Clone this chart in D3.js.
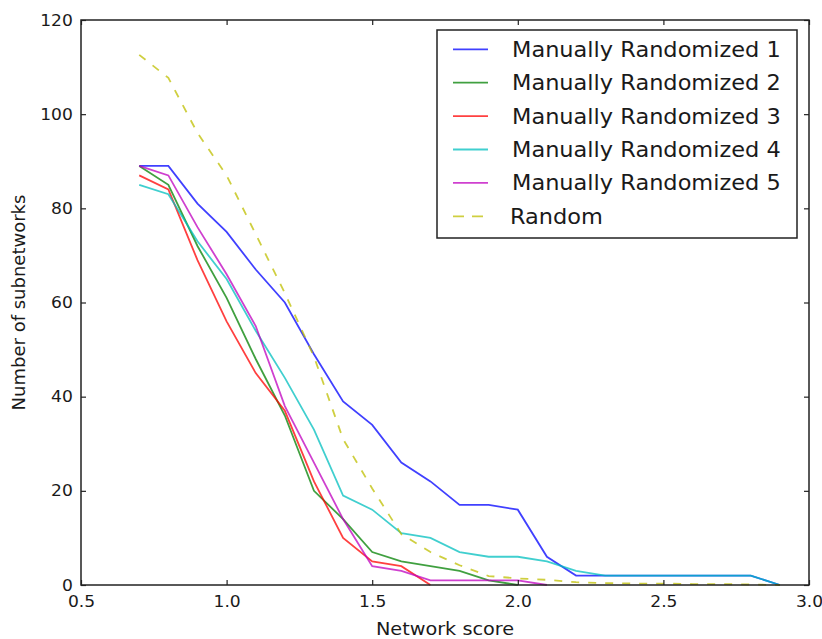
<!DOCTYPE html>
<html>
<head>
<meta charset="utf-8">
<script src="https://cdn.jsdelivr.net/npm/d3@7"></script>
<style>
  body { margin: 0; background: #fff; }
  text { font-family: "DejaVu Sans", sans-serif; fill: #1a1a1a; }
</style>
</head>
<body>
<div id="chart"></div>
<script>
// data
const scores = [0.7, 0.8, 0.9, 1.0, 1.1, 1.2, 1.3, 1.4, 1.5, 1.6, 1.7, 1.8,
                1.9, 2.0, 2.1, 2.2, 2.3, 2.4, 2.5, 2.6, 2.7, 2.8, 2.9];
const manual1 = [89, 89, 81, 75, 67, 60, 49, 39, 34, 26, 22, 17, 17, 16, 6, 2, 2, 2, 2, 2, 2, 2, 0];
const manual2 = [89, 85, 72, 61, 48, 36, 20, 14, 7, 5, 4, 3, 1, 0];
const manual3 = [87, 84, 69, 56, 45, 37, 22, 10, 5, 4, 0];
const manual4 = [85, 83, 73, 65, 54, 44, 33, 19, 16, 11, 10, 7, 6, 6, 5, 3, 2, 2, 2, 2, 2, 2, 0];
const manual5 = [89, 87, 76, 66, 55, 38, 26, 14, 4, 3, 1, 1, 1, 1, 0];
const random = [112.6, 107.7, 96, 87, 74.5, 62, 48.5, 31, 20.5, 10.8, 7, 4.2, 1.9, 1.4, 1.1, 0.6, 0.4, 0.3, 0.3, 0.2, 0.2, 0.1, 0];

const seriesNames = ["Manually Randomized 1", "Manually Randomized 2", "Manually Randomized 3",
                     "Manually Randomized 4", "Manually Randomized 5", "Random"];
const seriesValues = [manual1, manual2, manual3, manual4, manual5, random];
const seriesColors = ["#0000ff", "#008000", "#ff0000", "#00bfbf", "#bf00bf", "#bfbf00"];
const xTicks = [0.5, 1.0, 1.5, 2.0, 2.5, 3.0];
const yTicks = [0, 20, 40, 60, 80, 100, 120];

////////////////////////////////////////////////////////////////////////
// setup
const width = 822, height = 639;
const stretch = 1.07; // text in the picture is a bit wider than tall

let x = d3.scaleLinear().domain([0.5, 3.0]).range([81, 809]);
let y = d3.scaleLinear().domain([0, 120]).range([585, 20]);

let svg = d3.select("#chart").append("svg")
  .attr("width", width)
  .attr("height", height);

svg.append("rect").attr("width", width).attr("height", height).attr("fill", "#fff");

////////////////////////////////////////////////////////////////////////
// lines
let line = d3.line()
  .x((d, i) => x(scores[i]))
  .y(d => y(d));

seriesValues.forEach((vals, k) => {
  svg.append("path")
    .attr("d", line(vals))
    .attr("fill", "none")
    .attr("stroke", seriesColors[k])
    .attr("stroke-opacity", 0.75)
    .attr("stroke-width", 1.8)
    .attr("stroke-dasharray", k == 5 ? "8,9" : null);
});

////////////////////////////////////////////////////////////////////////
// axes, ticks point inwards on all four sides
function styleAxis(g) {
  g.select(".domain").remove();
  g.selectAll(".tick line").attr("stroke", "#222").attr("stroke-width", 1.2);
  g.selectAll("text").attr("font-size", 16).attr("fill", "#1a1a1a")
    .attr("font-family", "DejaVu Sans, sans-serif");
}

svg.append("g")
  .attr("transform", "translate(0,585)")
  .call(d3.axisBottom(x).tickValues(xTicks).tickFormat(d3.format(".1f"))
    .tickSizeInner(-5).tickSizeOuter(0).tickPadding(10.5))
  .call(styleAxis)
  .selectAll("text").attr("transform", "scale(" + stretch + ",1)");

svg.append("g")
  .attr("transform", "translate(81,0)")
  .call(d3.axisLeft(y).tickValues(yTicks)
    .tickSizeInner(-5).tickSizeOuter(0).tickPadding(7.6))
  .call(styleAxis)
  .selectAll("text").attr("transform", "scale(" + stretch + ",1)");

svg.append("g")
  .attr("transform", "translate(0,20)")
  .call(d3.axisTop(x).tickValues(xTicks).tickFormat("").tickSizeInner(-5).tickSizeOuter(0))
  .call(styleAxis);

svg.append("g")
  .attr("transform", "translate(809,0)")
  .call(d3.axisRight(y).tickValues(yTicks).tickFormat("").tickSizeInner(-5).tickSizeOuter(0))
  .call(styleAxis);

// frame
svg.append("rect")
  .attr("x", x(0.5)).attr("y", y(120))
  .attr("width", x(3.0) - x(0.5)).attr("height", y(0) - y(120))
  .attr("fill", "none")
  .attr("stroke", "#222")
  .attr("stroke-width", 1.5);

// axis labels
svg.append("text")
  .attr("transform", "translate(" + (x(0.5) + x(3.0)) / 2 + ",635) scale(" + stretch + ",1)")
  .attr("text-anchor", "middle")
  .attr("font-size", 18)
  .text("Network score");

svg.append("text")
  .attr("transform", "translate(24.5," + (y(0) + y(120)) / 2 + ") rotate(-90)")
  .attr("text-anchor", "middle")
  .attr("font-size", 18)
  .text("Number of subnetworks");

////////////////////////////////////////////////////////////////////////
// legend
let legend = svg.append("g");

legend.append("rect")
  .attr("x", 437).attr("y", 30)
  .attr("width", 360).attr("height", 208)
  .attr("fill", "#fff")
  .attr("stroke", "#222")
  .attr("stroke-width", 1.5);

seriesNames.forEach((name, k) => {
  let cy = 49.3 + k * 33.4;
  legend.append("line")
    .attr("x1", 453).attr("x2", 488)
    .attr("y1", cy).attr("y2", cy)
    .attr("stroke", seriesColors[k])
    .attr("stroke-opacity", 0.75)
    .attr("stroke-width", 1.8)
    .attr("stroke-dasharray", k == 5 ? "11,8" : null);
  legend.append("text")
    .attr("transform", "translate(" + (k == 5 ? 510 : 512) + "," + (cy + 7.4) + ") scale(" + stretch + ",1)")
    .attr("font-size", 21)
    .text(name);
});
</script>
</body>
</html>
